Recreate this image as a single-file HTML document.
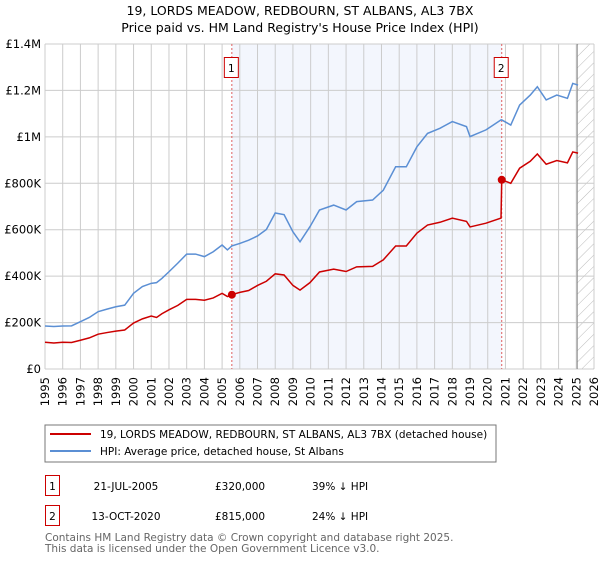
<!DOCTYPE html>
<html><head><meta charset="utf-8"><style>
body{margin:0;background:#fff}
svg text{font-family:"DejaVu Sans","Liberation Sans",sans-serif}
</style></head><body>
<svg id="c" width="600" height="560" xmlns="http://www.w3.org/2000/svg">
<defs><pattern id="h" width="8" height="8" patternUnits="userSpaceOnUse" patternTransform="rotate(45)"><line x1="0" y1="0" x2="0" y2="8" stroke="#bbb" stroke-width="1"/></pattern></defs>
<text x="300" y="15" text-anchor="middle" font-size="12.5">19, LORDS MEADOW, REDBOURN, ST ALBANS, AL3 7BX</text>
<text x="300" y="32" text-anchor="middle" font-size="12.5">Price paid vs. HM Land Registry's House Price Index (HPI)</text>
<g id="plot"></g>
<rect x="45" y="425" width="451" height="37" fill="#fff" stroke="#777"/>
<line x1="50" y1="434" x2="91" y2="434" stroke="#cc0000" stroke-width="2"/>
<text x="100" y="438" font-size="10.5">19, LORDS MEADOW, REDBOURN, ST ALBANS, AL3 7BX (detached house)</text>
<line x1="50" y1="451" x2="91" y2="451" stroke="#5b8fd4" stroke-width="2"/>
<text x="100" y="455" font-size="10.5">HPI: Average price, detached house, St Albans</text>
<g font-size="10.5">
<rect x="45.5" y="475.5" width="14" height="20" fill="none" stroke="#cc0000"/>
<text x="52.5" y="490" text-anchor="middle">1</text>
<text x="126" y="490" text-anchor="middle">21-JUL-2005</text>
<text x="215" y="490">£320,000</text>
<text x="312" y="490">39% ↓ HPI</text>
<rect x="45.5" y="505.5" width="14" height="20" fill="none" stroke="#cc0000"/>
<text x="52.5" y="520" text-anchor="middle">2</text>
<text x="126" y="520" text-anchor="middle">13-OCT-2020</text>
<text x="215" y="520">£815,000</text>
<text x="312" y="520">24% ↓ HPI</text>
</g>
<text x="45" y="541" font-size="10.5" fill="#666">Contains HM Land Registry data © Crown copyright and database right 2025.</text>
<text x="45" y="552" font-size="10.5" fill="#666">This data is licensed under the Open Government Licence v3.0.</text>
</svg>
<script>
const years=[1995,1995.5,1996,1996.5,1997,1997.5,1998,1998.5,1999,1999.5,2000,2000.5,2001,2001.3,2001.6,2002,2002.5,2003,2003.5,2004,2004.5,2005,2005.3,2005.55,2006,2006.5,2007,2007.5,2008,2008.5,2009,2009.4,2009.96,2010.5,2011.3,2012,2012.6,2013.5,2014.1,2014.8,2015.4,2016,2016.6,2017.3,2018,2018.8,2019,2019.9,2020.75,2020.79,2021.3,2021.8,2022.4,2022.8,2023.3,2023.9,2024.5,2024.8,2025.1];
const hpi=[185,183,185,186,204,222,247,258,268,275,326,355,369,372,390,419,456,495,495,484,505,534,513,530,541,555,573,601,672,665,591,548,613,685,706,685,721,728,770,871,871,957,1015,1037,1066,1044,1001,1030,1073,1073,1051,1137,1180,1216,1159,1180,1166,1230,1223];
const price=[115,112,115,114,124,134,150,157,163,168,198,216,228,222,238,255,274,300,300,296,306,326,312,320,330,338,360,378,410,405,360,340,372,418,430,420,440,442,470,530,530,585,620,632,650,636,612,628,650,815,800,865,895,926,882,898,888,935,930];
const yTicks=[0,200,400,600,800,1000,1200,1400];
const yLabels=["£0","£200K","£400K","£600K","£800K","£1M","£1.2M","£1.4M"];
const xTicks=[1995,1996,1997,1998,1999,2000,2001,2002,2003,2004,2005,2006,2007,2008,2009,2010,2011,2012,2013,2014,2015,2016,2017,2018,2019,2020,2021,2022,2023,2024,2025,2026];
const saleYears=[2005.55,2020.79];
const saleValues=[320,815];
const saleLabels=["1","2"];
const X0=45,X1=594,Y0=369,Y1=44,xMin=1995,xMax=2026,yMax=1400,dataEnd=2025.05;
const xs=v=>X0+(v-xMin)/(xMax-xMin)*(X1-X0);
const ys=v=>Y0-v/yMax*(Y0-Y1);
const g=document.getElementById('plot');
const NS='http://www.w3.org/2000/svg';
function mk(t,a,p){const e=document.createElementNS(NS,t);for(const k in a)e.setAttribute(k,a[k]);(p||g).appendChild(e);return e;}
let e=mk('rect',{x:xs(saleYears[0]),y:Y1,width:xs(saleYears[1])-xs(saleYears[0]),height:Y0-Y1,fill:'#eef2fc',opacity:0.7});


e=mk('rect',{x:xs(dataEnd),y:Y1,width:X1-xs(dataEnd),height:Y0-Y1,fill:'url(#h)'});


xTicks.forEach(t=>{
 e=mk('line',{x1:xs(t),x2:xs(t),y1:Y1,y2:Y0,stroke:'#ccc','stroke-width':1});
 
 
 e=mk('text',{x:0,y:0,'font-size':'11.5',transform:`translate(${xs(t)+4},${Y0+8}) rotate(-90)`,'text-anchor':'end'});
 e.textContent=t;
 
 
});
yTicks.forEach((t,i)=>{
 e=mk('line',{x1:X0,x2:X1,y1:ys(t),y2:ys(t),stroke:'#ccc','stroke-width':1});
 
 
 e=mk('text',{x:X0-4,y:ys(t)+4,'font-size':'11.5','text-anchor':'end'});
 e.textContent=yLabels[i];
 
 
});
e=mk('line',{x1:xs(dataEnd),x2:xs(dataEnd),y1:Y1,y2:Y0,stroke:'#888','stroke-width':1});


saleYears.forEach((s,i)=>{
 e=mk('line',{x1:xs(s),x2:xs(s),y1:Y1,y2:Y0,stroke:'#e06060','stroke-width':1,'stroke-dasharray':'2,2'});
 
 
 e=mk('rect',{x:xs(s)-7.5,y:57.5,width:14,height:20,fill:'#fff',stroke:'#cc0000'});
 
 
 e=mk('text',{x:xs(s)-0.5,y:72,'font-size':'10.5','text-anchor':'middle'});
 e.textContent=saleLabels[i];
 
 
});
e=mk('polyline',{points:years.map((y,i)=>xs(y)+','+ys(hpi[i])).join(' '),fill:'none',stroke:'#5b8fd4','stroke-width':1.5});


e=mk('polyline',{points:years.map((y,i)=>xs(y)+','+ys(price[i])).join(' '),fill:'none',stroke:'#cc0000','stroke-width':1.5});


saleYears.forEach((s,i)=>{
 e=mk('circle',{cx:xs(s),cy:ys(saleValues[i]),r:4,fill:'#cc0000'});
 
 
});
</script>
</body></html>
